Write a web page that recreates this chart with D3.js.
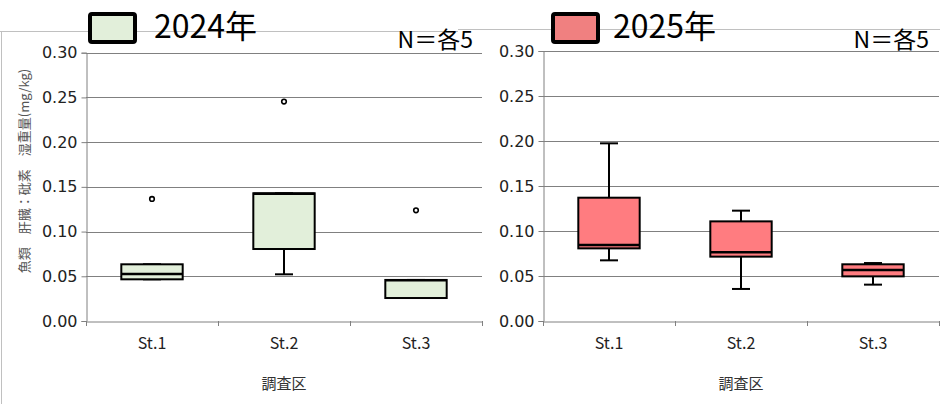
<!DOCTYPE html>
<html><head><meta charset="utf-8">
<script src="https://cdn.jsdelivr.net/npm/d3@7/dist/d3.min.js"></script>
<style>
html,body{margin:0;padding:0;background:#fff;}
svg{display:block;}
</style>
</head><body>
<svg id="c" width="942" height="404"></svg>
<script>
// ---- data ----
const categories = ["St.1", "St.2", "St.3"];
const yTickValues = [0, 0.05, 0.10, 0.15, 0.20, 0.25, 0.30];
const yearLabels = ["2024年", "2025年"];
const nLabel = "N＝各5";
const xTitle = "調査区";
const yTitle = "魚類　肝臓：砒素　湿重量(mg/kg)";

const min2024 = [0.0466, 0.0522, 0.0257];
const q1_2024 = [0.0466, 0.0805, 0.0257];
const med2024 = [0.0526, 0.1422, 0.0457];
const q3_2024 = [0.0634, 0.1428, 0.0459];
const max2024 = [0.0634, 0.1428, 0.0459];
const out2024 = [0.1365, 0.2453, 0.1238];

const min2025 = [0.0674, 0.0356, 0.0404];
const q1_2025 = [0.0807, 0.0715, 0.0496];
const med2025 = [0.0844, 0.0763, 0.0567];
const q3_2025 = [0.1370, 0.1107, 0.0630];
const max2025 = [0.1974, 0.1226, 0.0644];
const out2025 = [null, null, null];

// ---- drawing ----
const svg = d3.select("#c");
const numFont = "'DejaVu Sans', Verdana, sans-serif";
const jpFont = "'Noto Sans CJK JP', 'Noto Sans', sans-serif";

// chart frames
svg.append("line").attr("x1", 0).attr("x2", 458).attr("y1", 31.5).attr("y2", 31.5).attr("stroke", "#c0c0c0");
svg.append("line").attr("x1", 1.5).attr("x2", 1.5).attr("y1", 31.5).attr("y2", 404).attr("stroke", "#c0c0c0");
svg.append("line").attr("x1", 458).attr("x2", 940).attr("y1", 29.5).attr("y2", 29.5).attr("stroke", "#c0c0c0");

const panels = [
  {x0: 86, x1: 482, yTop: 52.7, yBot: 321, fill: "#e2efda", legFill: "#e2efda",
   legX: 90, textX: 154, nX: 473, titleX: 24,
   mins: min2024, q1s: q1_2024, meds: med2024, q3s: q3_2024, maxs: max2024, outs: out2024, year: yearLabels[0]},
  {x0: 543, x1: 939, yTop: 51, yBot: 321, fill: "#ff7c80", legFill: "#f08080",
   legX: 553, textX: 613, nX: 929, titleX: null,
   mins: min2025, q1s: q1_2025, meds: med2025, q3s: q3_2025, maxs: max2025, outs: out2025, year: yearLabels[1]}
];

panels.forEach(p => {
  const g = svg.append("g");
  const x = d3.scaleBand().domain(categories).range([p.x0, p.x1]).paddingInner(0).paddingOuter(0);
  const y = d3.scaleLinear().domain([0, 0.30]).range([p.yBot, p.yTop]);

  // gridlines
  g.append("g").selectAll("line").data(yTickValues.filter(v => v > 0)).join("line")
    .attr("x1", p.x0).attr("x2", p.x1)
    .attr("y1", d => Math.round(y(d)) + 0.5).attr("y2", d => Math.round(y(d)) + 0.5)
    .attr("stroke", "#808080").attr("stroke-width", 1);

  // y axis
  const ya = g.append("g").attr("transform", `translate(${p.x0 + 0.5},0)`)
    .call(d3.axisLeft(y).tickValues(yTickValues).tickFormat(d3.format(".2f")).tickSize(5).tickPadding(4));
  ya.select(".domain").attr("stroke", "#808080");
  ya.selectAll(".tick line").attr("stroke", "#808080");
  ya.selectAll(".tick text").attr("font-family", numFont).attr("font-size", 16).attr("fill", "#222");

  // x axis
  const xa = g.append("g").attr("transform", `translate(0,${p.yBot + 0.5})`)
    .call(d3.axisBottom(x).tickSize(0).tickPadding(16));
  xa.select(".domain").attr("stroke", "#808080");
  xa.selectAll(".tick text").attr("font-family", jpFont).attr("font-size", 16).attr("fill", "#222");
  const edges = categories.map(c => x(c)).concat([x(categories[categories.length - 1]) + x.bandwidth()]);
  g.append("g").selectAll("line").data(edges).join("line")
    .attr("x1", d => Math.round(d) + 0.5).attr("x2", d => Math.round(d) + 0.5)
    .attr("y1", p.yBot).attr("y2", p.yBot + 5).attr("stroke", "#808080");

  // x title
  g.append("text").attr("x", (p.x0 + p.x1) / 2).attr("y", 389).attr("text-anchor", "middle")
    .attr("font-family", jpFont).attr("font-size", 15).attr("fill", "#333").text(xTitle);

  // boxes
  const bw = x.bandwidth() * 0.465;
  const cap = 18;
  categories.forEach((c, i) => {
    const cx = x(c) + x.bandwidth() / 2;
    const bg = g.append("g");
    bg.append("line").attr("x1", cx).attr("x2", cx).attr("y1", y(p.maxs[i])).attr("y2", y(p.q3s[i]))
      .attr("stroke", "#000").attr("stroke-width", 2);
    bg.append("line").attr("x1", cx).attr("x2", cx).attr("y1", y(p.q1s[i])).attr("y2", y(p.mins[i]))
      .attr("stroke", "#000").attr("stroke-width", 2);
    [p.maxs[i], p.mins[i]].forEach(v => {
      bg.append("line").attr("x1", cx - cap / 2).attr("x2", cx + cap / 2).attr("y1", y(v)).attr("y2", y(v))
        .attr("stroke", "#000").attr("stroke-width", 2);
    });
    bg.append("rect").attr("x", cx - bw / 2).attr("width", bw)
      .attr("y", y(p.q3s[i])).attr("height", Math.max(0, y(p.q1s[i]) - y(p.q3s[i])))
      .attr("fill", p.fill).attr("stroke", "#000").attr("stroke-width", 2);
    bg.append("line").attr("x1", cx - bw / 2).attr("x2", cx + bw / 2).attr("y1", y(p.meds[i])).attr("y2", y(p.meds[i]))
      .attr("stroke", "#000").attr("stroke-width", 2.5);
    if (p.outs[i] != null) {
      bg.append("circle").attr("cx", cx).attr("cy", y(p.outs[i])).attr("r", 2.3)
        .attr("fill", "#fff").attr("stroke", "#000").attr("stroke-width", 1.6);
    }
  });

  // legend
  svg.append("rect").attr("x", p.legX).attr("y", 14).attr("width", 45).attr("height", 28).attr("rx", 2)
    .attr("fill", p.legFill).attr("stroke", "#000").attr("stroke-width", 4);
  svg.append("text").attr("x", p.textX).attr("y", 38).attr("font-family", jpFont).attr("font-size", 32)
    .attr("fill", "#000").text(p.year);
  svg.append("text").attr("x", p.nX).attr("y", 48).attr("text-anchor", "end").attr("font-family", jpFont)
    .attr("font-size", 23).attr("fill", "#000").text(nLabel);

  if (p.titleX != null) {
    svg.append("text").attr("transform", `translate(${p.titleX},171) rotate(-90)`).attr("text-anchor", "middle")
      .attr("dy", "0.35em").attr("font-family", jpFont).attr("font-size", 13).attr("fill", "#555").text(yTitle);
  }
});
</script>
</body></html>
